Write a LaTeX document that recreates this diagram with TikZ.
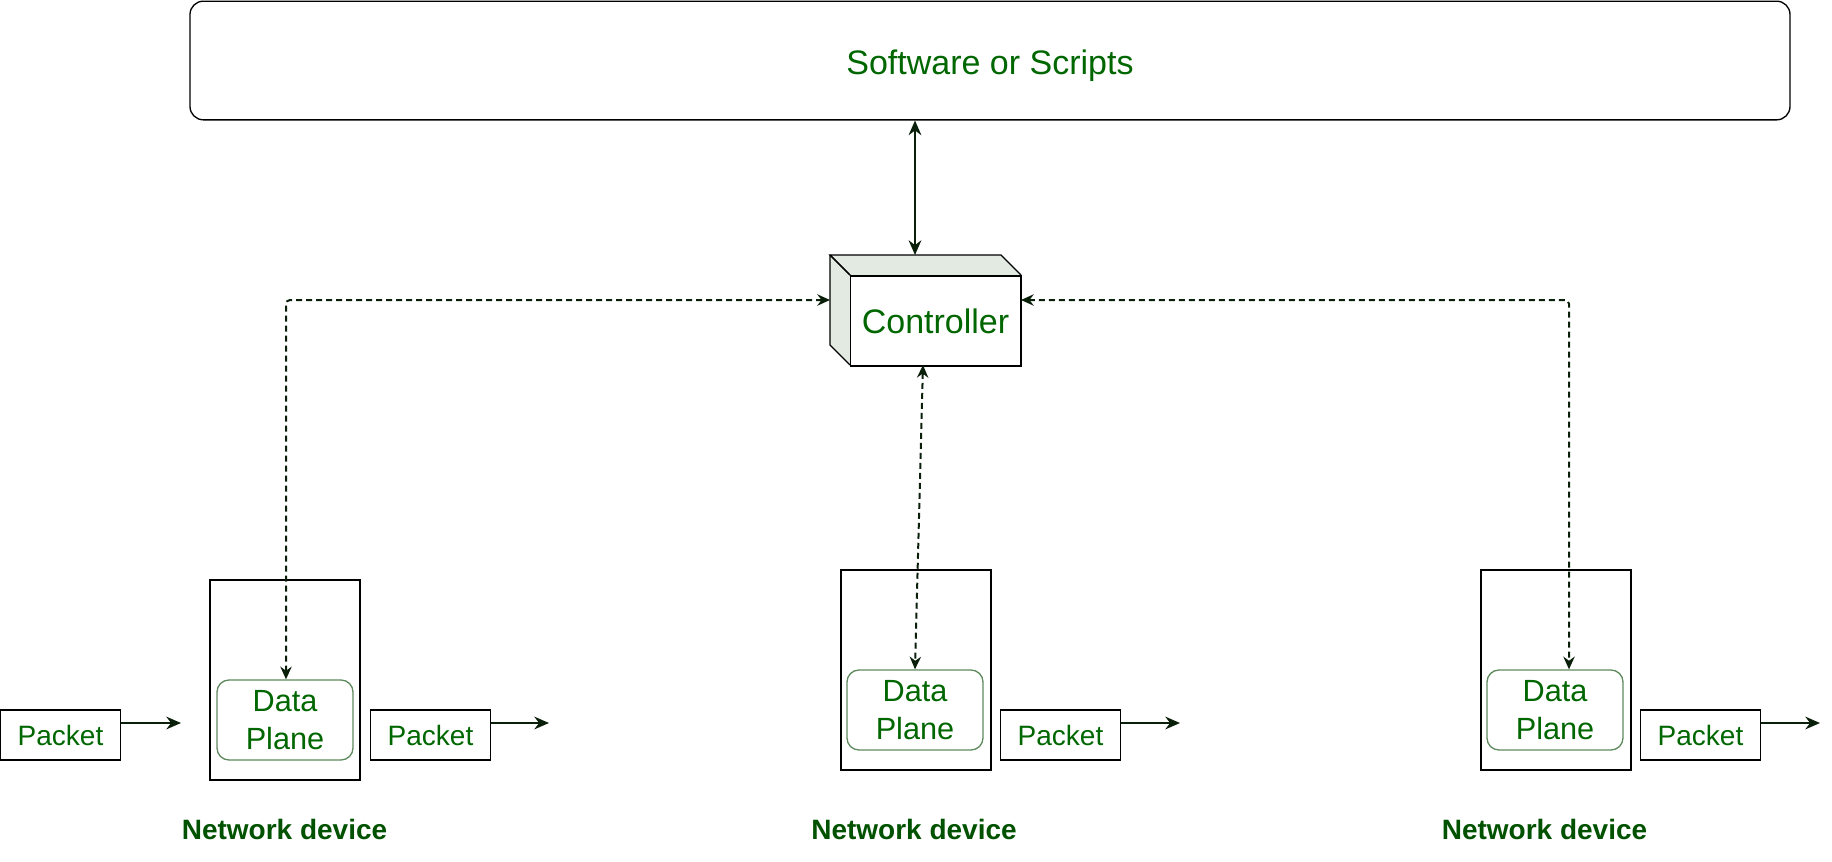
\documentclass[tikz,border=0pt]{standalone}
\usepackage{fontspec}
\setmainfont{Liberation Sans}
\usetikzlibrary{arrows.meta,calc}
\definecolor{txtgreen}{HTML}{006600}
\definecolor{lblgreen}{HTML}{005200}
\definecolor{lnk}{HTML}{0A1F0A}
\definecolor{sidefill}{HTML}{E2EAE2}
\definecolor{dpborder}{HTML}{5E8A5E}
\tikzset{
  box/.style={draw=black, line width=1pt, inner sep=0pt, text=txtgreen},
  topbox/.style={box, rounded corners=10pt, minimum width=1200pt, minimum height=89pt,
    text height=22pt, text depth=1.5pt,
    font=\fontsize{25.5}{30}\selectfont},
  ctrlbox/.style={box, fill=white, minimum width=128pt, minimum height=67.5pt,
    font=\fontsize{25.5}{30}\selectfont},
  devbox/.style={box, minimum width=112.5pt, minimum height=150pt},
  dpbox/.style={box, draw=dpborder, rounded corners=9pt, minimum width=102pt, minimum height=60pt,
    align=center, font=\fontsize{23}{28.5}\selectfont},
  pktbox/.style={box, minimum width=90pt, minimum height=37.5pt,
    font=\fontsize{21}{25}\selectfont},
  lbl/.style={text=lblgreen, font=\bfseries\fontsize{21}{25}\selectfont, anchor=base, inner sep=0pt},
  solidarrow/.style={draw=lnk, line width=1.7pt, -{Stealth[length=11pt,width=9.5pt]}},
  dblarrow/.style={draw=lnk, line width=1.7pt, {Stealth[length=11pt,width=9.5pt]}-{Stealth[length=11pt,width=9.5pt]}},
  dasharrow/.style={draw=lnk, line width=1.5pt, dash pattern=on 4.5pt off 3pt, rounded corners=3pt,
    {Stealth[length=9.5pt,width=8.5pt]}-{Stealth[length=9.5pt,width=8.5pt]}},
}
\begin{document}
\begin{tikzpicture}[x=0.75pt,y=-0.75pt]
\useasboundingbox (0,0) rectangle (1832,861);

% top box
\node[topbox] (sw) at (990,60.5) {Software or Scripts};

% controller (3D box)
\coordinate (tl) at (830,255);
\coordinate (tr) at (1001,255);
\coordinate (fr) at (1021,275);
\coordinate (fl) at (850,275);
\coordinate (bl) at (850,365);
\coordinate (bb) at (830,345);
\fill[sidefill] (tl) -- (tr) -- (fr) -- (fl) -- cycle;
\fill[sidefill] (tl) -- (fl) -- (bl) -- (bb) -- cycle;
\draw[black, line width=1pt, line join=miter] (fl) -- (tl) -- (tr) -- (fr);
\draw[black, line width=1pt] (tl) -- (bb) -- (bl);
\draw[black, line width=1pt] (tl) -- (fl);
\node[ctrlbox] (ctrl) at (935.5,321) {Controller};

\coordinate (ctop) at (915,255);
\coordinate (cleft) at (830,300);
\coordinate (cright) at (1021,300);
\coordinate (cbot) at (923,365);

% devices
\node[devbox] (dev1) at (285,680) {};
\node[dpbox] (dp1) at (285,720) {Data\\Plane};
\node[pktbox] (pk1a) at (60.5,735) {Packet};
\node[pktbox] (pk1b) at (430.5,735) {Packet};
\node[lbl] (nd1) at (284.5,839) {Network device};

\node[devbox] (dev2) at (916,670) {};
\node[dpbox] (dp2) at (915,710) {Data\\Plane};
\node[pktbox] (pk2) at (1060.5,735) {Packet};
\node[lbl] (nd2) at (914,839) {Network device};

\node[devbox] (dev3) at (1556,670) {};
\node[dpbox] (dp3) at (1555,710) {Data\\Plane};
\node[pktbox] (pk3) at (1700.5,735) {Packet};
\node[lbl] (nd3) at (1544.5,839) {Network device};

% packet arrows
\coordinate (a1) at (181,723);
\coordinate (a2) at (549,723);
\coordinate (a3) at (1180,723);
\coordinate (a4) at (1820,723);
\draw[solidarrow] (pk1a.east |- a1) -- (a1);
\draw[solidarrow] (pk1b.east |- a2) -- (a2);
\draw[solidarrow] (pk2.east |- a3) -- (a3);
\draw[solidarrow] (pk3.east |- a4) -- (a4);

% controller links
\draw[dblarrow] (sw.south -| ctop) -- (ctop);
\draw[dasharrow] (cleft) -- (286,300) -- (dp1.north -| 286,0);
\draw[dasharrow] (cright) -- (1569,300) -- (dp3.north -| 1569,0);
\draw[dasharrow] (cbot) -- (dp2.north);
\end{tikzpicture}
\end{document}
